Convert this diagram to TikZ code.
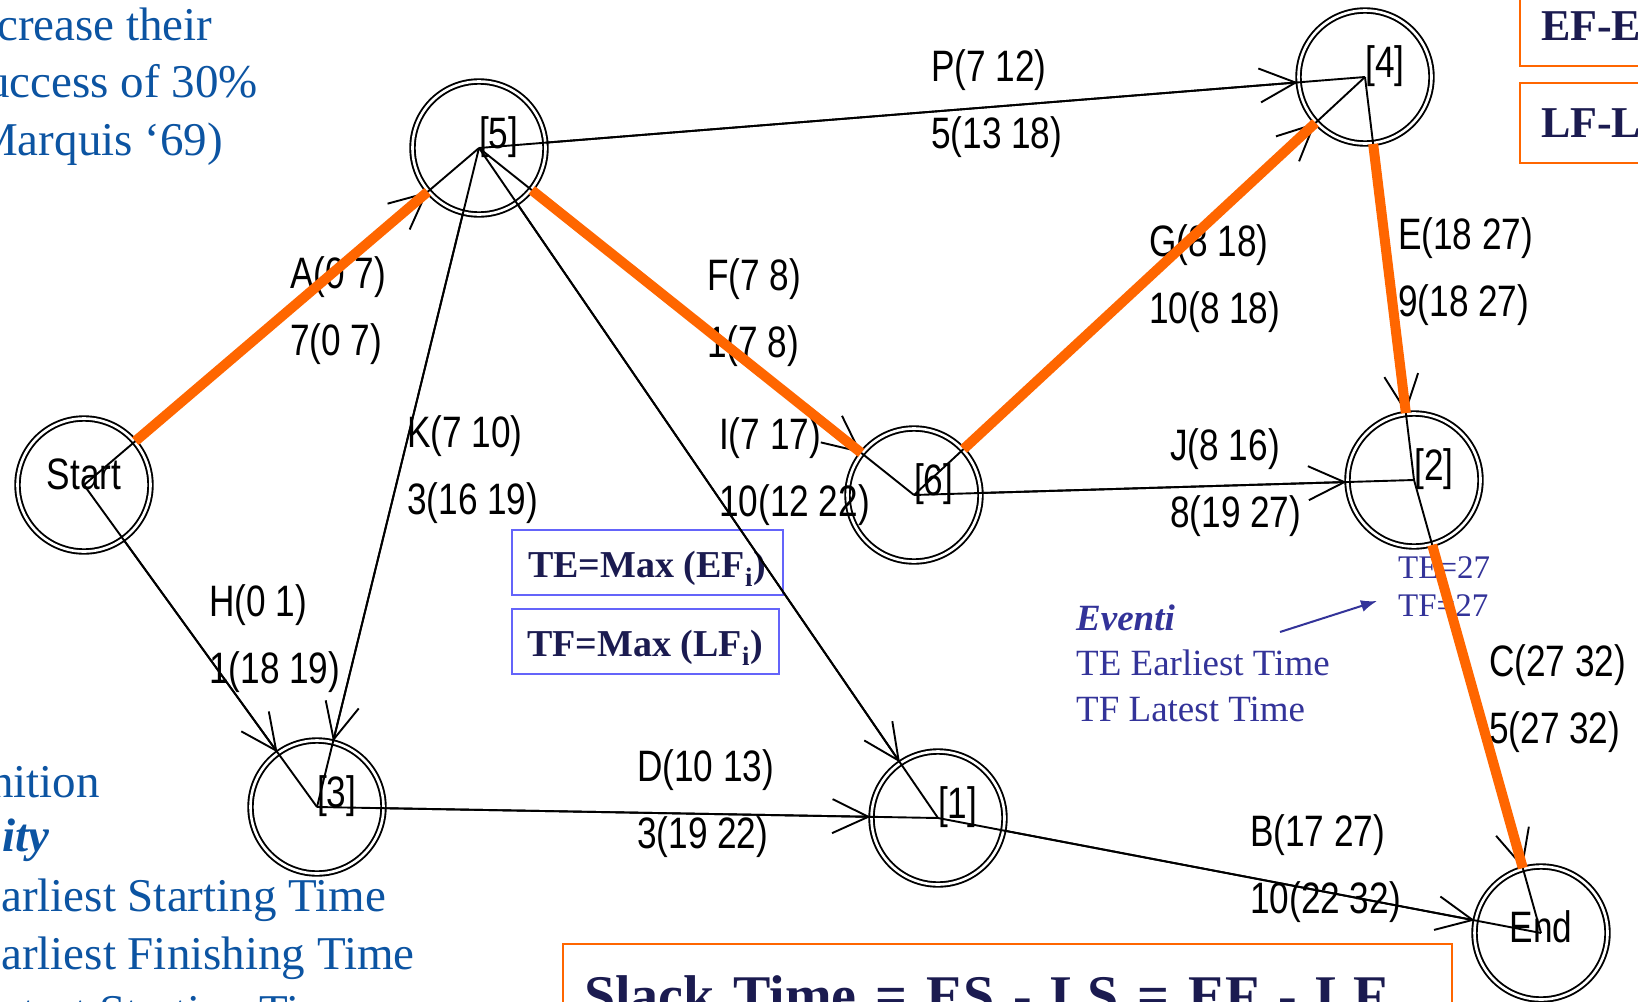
\documentclass[tikz,border=0pt]{standalone}
\usepackage{fontspec}
\setmainfont{Liberation Serif}
\newfontfamily\pertfont[FakeStretch=0.8]{Liberation Sans}
\usetikzlibrary{arrows.meta}

\definecolor{critorange}{RGB}{255,102,0}
\definecolor{slideblue}{RGB}{12,84,162}
\definecolor{eventblue}{RGB}{51,51,153}
\definecolor{boxnavy}{RGB}{27,27,80}
\definecolor{boxline}{RGB}{100,100,250}

\tikzset{
  event/.style={circle, draw, double, double distance=2.6pt, line width=1.9pt,
    minimum size=133pt, inner sep=0pt},
  pert/.style={font=\pertfont\fontsize{44}{44}\selectfont, inner sep=0pt, anchor=base west},
  act/.style={line width=1.9pt},
  crit/.style={line width=10pt, critorange},
  slide/.style={font=\fontsize{47}{57}\selectfont, text=slideblue, inner sep=0pt, anchor=base west},
  evtext/.style={font=\fontsize{37}{37}\selectfont, text=eventblue, inner sep=0pt, anchor=base west},
  tebox/.style={draw=boxline, line width=2pt, text=boxnavy, font=\bfseries\fontsize{38}{38}\selectfont,
    minimum width=271pt, minimum height=65pt, inner sep=0pt, text height=30pt, text depth=0pt},
  obox/.style={draw=critorange, line width=2pt, text=boxnavy, align=left, inner xsep=21pt,
    inner ysep=0pt, anchor=north west}
}

\begin{document}
\begin{tikzpicture}[x=1pt, y=-1pt]
  \path[use as bounding box, fill=white] (0,0) rectangle (1638,1001);

  % slide text behind the network
  \node[slide] (t1) at (-3,40) {crease their};
  \node[slide] (t2) at (-14,97) {uccess of 30\%};
  \node[slide] (t3) at (-24,155) {Marquis ‘69)};
  \node[slide] (b1) at (-10,797) {nition};
  \node[slide] (b2) at (2,851) {\bfseries\itshape ity};
  \node[slide] (b3) at (1,911) {arliest Starting Time};
  \node[slide] (b4) at (1,969) {arliest Finishing Time};
  \node[slide] (b5) at (1,1027) {atest Starting Time};

  \node[obox, font=\bfseries\fontsize{44}{44}\selectfont, text width=160pt, minimum height=80pt] (ef) at (1519,-15) {EF-E};
  \node[obox, font=\bfseries\fontsize{44}{44}\selectfont, text width=160pt, minimum height=80pt] (lf) at (1519,82) {LF-L};
  \node[obox, font=\bfseries\fontsize{56}{56}\selectfont, text width=847pt, minimum height=102pt] (slack) at (562,943) {Slack Time = ES - LS = EF - LF};

  \node[tebox] (te) at (647,562) {TE=Max (EF\textsubscript{i})};
  \node[tebox, minimum width=267pt] (tf) at (645,641) {TF=Max (LF\textsubscript{i})};

  \node[evtext] (ev1) at (1076,630) {\bfseries\itshape Eventi};
  \node[evtext] (ev2) at (1076,675) {TE Earliest Time};
  \node[evtext] (ev3) at (1076,721) {TF Latest Time};
  \node[evtext, font=\fontsize{33}{33}\selectfont] (te27) at (1398,578) {TE=27};
  \node[evtext, font=\fontsize{33}{33}\selectfont] (tf27) at (1398,616) {TF=27};
  \coordinate (evtail) at (1280,632);
  \coordinate (evhead) at (1377,601);
  \draw[eventblue, line width=2pt, -{Latex[length=16pt, width=12pt]}] (evtail) -- (evhead);

  % events
  \foreach \ev/\x/\y in {st/84/485, n5/479/148, n4/1365/77, n6/914/495,
                         n2/1414/480, n3/317/807, n1/938/818, en/1541/933} {
    \node[event] (\ev) at (\x,\y) {};
  }
  \foreach \ev/\t in {n5/{[5]}, n4/{[4]}, n6/{[6]}, n2/{[2]}, n3/{[3]}, n1/{[1]}} {
    \node[pert] (\ev-t) at (\ev.center) {\t};
  }
  \node[pert, anchor=base] (st-t) at ([yshift=-4pt]st.center) {Start};
  \node[pert, anchor=base] (en-t) at ([yshift=-9pt]en.center) {End};

  % activities
  \foreach \a/\b in {st/n5, st/n3, n5/n4, n5/n6, n5/n3, n5/n1,
                     n6/n4, n6/n2, n4/n2, n3/n1, n1/en, n2/en} {
    \draw[act] (\a.center) -- (\b.center);
    \draw[act, -{Straight Barb[length=36pt, width=34pt]}] (\a) -- (\b);
  }
  \foreach \lab/\x/\y/\up/\dn in {A/290/288/{A(0 7)}/{7(0 7)}, P/931/81/{P(7 12)}/{5(13 18)},
      F/707/290/{F(7 8)}/{1(7 8)}, G/1149/256/{G(8 18)}/{10(8 18)},
      E/1398/249/{E(18 27)}/{9(18 27)}, K/407/447/{K(7 10)}/{3(16 19)},
      I/719/449/{I(7 17)}/{10(12 22)}, J/1170/460/{J(8 16)}/{8(19 27)},
      H/209/616/{H(0 1)}/{1(18 19)}, D/637/781/{D(10 13)}/{3(19 22)},
      C/1489/676/{C(27 32)}/{5(27 32)}, B/1250/846/{B(17 27)}/{10(22 32)}} {
    \node[pert] (\lab1) at (\x,\y) {\up};
    \node[pert] (\lab2) at (\x,\y+67) {\dn};
  }

  % critical path
  \foreach \a/\b in {st/n5, n5/n6, n6/n4, n4/n2, n2/en}
    \draw[crit] (\a) -- (\b);
\end{tikzpicture}
\end{document}
